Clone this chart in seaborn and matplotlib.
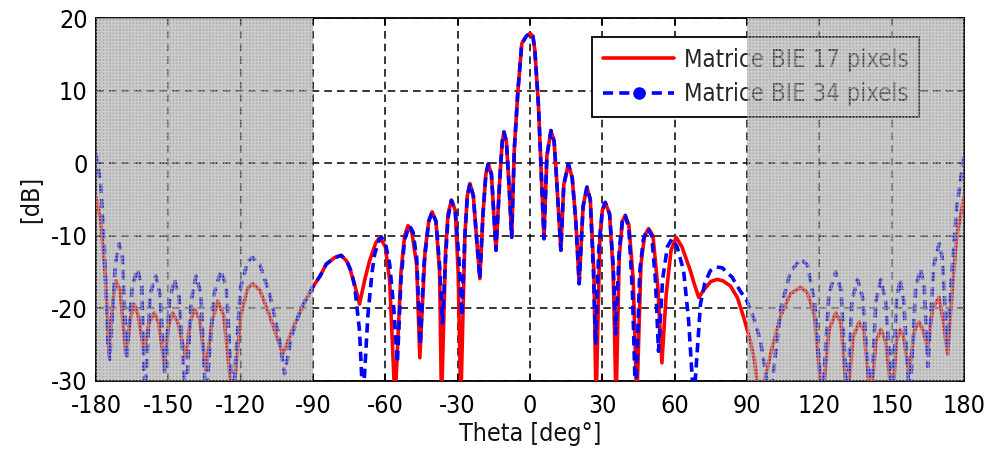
import numpy as np
import pandas as pd
import matplotlib
matplotlib.use("Agg")
import matplotlib.pyplot as plt
import seaborn as sns
from matplotlib.lines import Line2D

# ---------------- data ----------------
theta_17 = [-180, -178, -176, -174.6, -173, -171.8, -170, -167.6, -165.5, -164.2, -162.5, -160,
            -158, -155.9, -154, -151.7, -150, -148.2, -146, -142.7, -141, -139.2, -137, -134.4,
            -132, -129.5, -127, -123.3, -120, -117, -115, -112, -108, -102.5, -98, -94,
            -90, -87, -84.5, -81, -78.3, -76, -74.8, -72.5, -70.7, -68.5, -66.5, -64, -62.3,
            -60, -58.2, -56, -53.5, -52, -50.6, -49, -47, -45.7, -43.5, -42, -40.6, -39, -37.5,
            -36.7, -35, -34, -32.6, -31, -29.8, -28.7, -27, -26, -24.9, -23.5, -22, -20.8,
            -19.5, -18.3, -17.3, -16, -14.1, -12.5, -11.5, -10.8, -9.8, -8.7, -7.6, -6.5, -5,
            -3.4, -1.5, 0, 1.2, 2, 3.5, 5.8, 7, 8.7, 10, 11, 12.8, 14, 15.9, 17.5, 19, 20.4,
            22, 23.6, 25, 26.5, 27.4, 29, 30, 31.2, 33, 34.5, 35.7, 37, 38.3, 39.5, 41, 42.8,
            44.3, 46, 47.5, 49.2, 51, 53, 54.7, 56.5, 58.5, 60.6, 63, 66.5, 68, 70, 72, 75,
            77.6, 80, 83.1, 86, 88.7, 91.4, 93, 95.3, 100, 104, 108, 112.2, 115, 118, 121.2,
            124, 126.8, 129, 131.6, 134, 136.5, 138.5, 141.3, 143.5, 145.5, 147.5, 150.3, 152,
            153.5, 155, 157.2, 159.5, 161.4, 163, 164.9, 167, 169.7, 171.5, 173.2, 175, 177, 180]
db_17 = [-4.7, -8, -16, -26, -19, -16.2, -17.5, -26.3, -21, -19.4, -21, -26,
         -22, -20.6, -22, -27.7, -22.5, -20.6, -22, -26.8, -22, -20.1, -21.5, -28.6,
         -22, -19, -21, -33, -21, -17.2, -16.6, -17.5, -21, -26.3, -22.5, -19.5,
         -17, -15.5, -13.9, -13, -12.7, -13.5, -14.4, -17, -19.4, -16, -13.4, -11, -10.2,
         -11.5, -16.2, -33, -15, -10, -8.6, -9.5, -14, -26.8, -12, -8, -6.7, -8, -15,
         -33, -12, -7, -5.1, -6.5, -15, -33, -10, -4.5, -2.8, -4.5, -11, -15.9,
         -7, -1.5, -0.1, -1.5, -12, -2, 3, 4.3, 3, -3, -10.2, 2, 10,
         16.5, 17.5, 17.9, 17.5, 15.6, 8, -10.4, 1, 4.5, 3, -2, -12, -3, -0.1, -2, -8, -16.6,
         -6, -3.3, -5, -15, -33, -10, -6.5, -5.4, -7, -15, -33, -13, -8, -7.2, -8.5, -16,
         -33, -14, -10, -9, -10, -17, -27.5, -18, -12, -10.2, -11.5, -14.8, -16.5, -18.5, -17.5, -16.3,
         -16, -16.2, -16.9, -18.5, -21.3, -24.5, -27, -33, -26, -21, -18, -17.1, -17.8, -21, -33,
         -23, -20.6, -22, -33, -24, -21.9, -23, -33, -24.5, -22.9, -24.5, -33, -24.5,
         -22.9, -24, -29, -23, -21.9, -23, -25.4, -20, -18.5, -22, -26.3, -18, -10, -4.7]

theta_34 = [-180, -178, -176.5, -175, -174.3, -172, -170.4, -169, -167.3, -165, -162.8, -161,
            -159.8, -157.5, -155.2, -153.5, -151.5, -149.5, -147.5, -145.5, -142.8, -140.5,
            -138.5, -136.5, -134.5, -131, -128.2, -126, -123.3, -120, -117, -115, -112, -108,
            -104, -101.8, -99, -95, -90, -87, -84.5, -81, -78.3, -76, -74, -72.7, -70.7, -69.3,
            -67.2, -65.5, -64.4, -62.5, -61.6, -60, -58.2, -56.5, -55, -53.5, -52, -50, -48.5,
            -47, -45.5, -44, -42, -40.6, -39, -37.5, -36.3, -35, -34, -32.6, -31, -29.5, -28.3,
            -27, -26, -24.9, -23.5, -22, -20.8, -19.5, -18.3, -17.3, -16, -14.1, -12.5, -11.5,
            -10.8, -9.8, -8.7, -7.6, -6.5, -5, -3.4, -1.5, 0, 1.2, 2, 3.5, 5.8, 7, 8.7, 10, 11,
            12.8, 14, 15.9, 17.5, 19, 20.4, 22, 23.6, 25, 26.3, 27.2, 28.5, 30, 31.2, 33, 34.5,
            35.5, 37, 38.3, 39.5, 41, 42.5, 43.8, 45.5, 47, 48.8, 50.5, 52, 53.3, 55, 57, 58.9,
            61, 63.7, 65.8, 67.9, 70.7, 72.5, 74.8, 77, 79.7, 83.8, 87, 90, 93, 95.6, 98.3, 99.5,
            104, 108, 112.2, 115, 118, 121.2, 124, 126.8, 129, 131.6, 133.5, 135.8, 138, 141.3,
            143.5, 145.5, 147.5, 150.3, 152, 153.5, 155, 157.5, 160, 162, 163.5, 165, 167.5,
            169.7, 171, 173, 175, 177, 180]
db_34 = [1.3, -3, -12, -25, -27, -14, -11.1, -13, -27, -17, -14.6, -17,
         -33, -18, -15.5, -18, -29, -19, -16, -18.5, -33, -19,
         -15.5, -18, -33, -18, -14.8, -17, -33, -17, -13.5, -13, -14, -18,
         -24, -29, -24, -20, -17, -15.5, -13.9, -13, -12.7, -13.5, -15, -17, -23.1, -33,
         -20.8, -15, -12.5, -10.5, -10.2, -11, -13.9, -20, -27.5, -16, -10.5, -8.6, -9.5,
         -13, -25, -14, -8, -6.7, -8, -14, -22, -13, -7.5, -5.1, -6.5, -13, -21,
         -10, -4.5, -2.8, -4.5, -11, -15.9, -7, -1.5, -0.1, -1.5, -12, -2, 3,
         4.3, 3, -3, -10.2, 2, 10, 16.5, 17.5, 17.9, 17.5, 15.6, 8, -10.4, 1, 4.5, 3, -2,
         -12, -3, -0.1, -2, -8, -16.6, -6, -3.3, -5, -15, -25, -12, -6.5, -5.4, -7, -14,
         -23.5, -12, -8, -7.2, -9, -18, -33, -15, -10.5, -9, -10, -16, -25.9, -16, -11.5, -10.4,
         -11.5, -14.8, -21.7, -33, -19.4, -16.5, -14.8, -14.3, -14.4, -15.7, -17.5, -19, -21.5, -24.5, -30, -33,
         -20, -15, -13.2, -14, -19, -33, -18, -15, -17.5, -33, -19, -16, -18.5, -33,
         -19, -16, -19, -33, -19, -16, -19, -33, -17, -14.6, -17, -28, -14,
         -11.1, -13, -25, -15, -6, 1.0]

labels = ["Matrice BIE 17 pixels", "Matrice BIE 34 pixels"]
xticks = [-180, -150, -120, -90, -60, -30, 0, 30, 60, 90, 120, 150, 180]
yticks = [-30, -20, -10, 0, 10, 20]
shaded_spans = [(-180, -90), (90, 180)]

# ---------------- figure ----------------
sns.set_theme(style="white")
plt.rcParams["font.family"] = ["DejaVu Sans"]
plt.rcParams["font.stretch"] = "condensed"

fig = plt.figure(figsize=(9.86, 4.5), dpi=100)
ax = fig.add_axes([96 / 986, 1 - 381 / 450, 868 / 986, 363 / 450])

df17 = pd.DataFrame({"theta": theta_17, "db": db_17})
df34 = pd.DataFrame({"theta": theta_34, "db": db_34})

sns.lineplot(data=df17, x="theta", y="db", ax=ax, color="red", linewidth=2.6,
             sort=False, estimator=None, zorder=3)
sns.lineplot(data=df34, x="theta", y="db", ax=ax, color="blue", linewidth=2.6,
             sort=False, estimator=None, zorder=4, dashes=False)
ax.lines[1].set_dashes((2.6, 1.6))

ax.set_xlim(-180, 180)
ax.set_ylim(-30, 20)
ax.set_xticks(xticks)
ax.set_yticks(yticks)
ax.set_xticklabels([str(t) for t in xticks])
ax.set_yticklabels([str(t) for t in yticks])
ax.tick_params(axis="both", which="both", direction="in", length=5, width=1.2,
               top=True, right=True, bottom=True, left=True, labelsize=18,
               colors="black")
ax.tick_params(axis="x", pad=9.5)
ax.tick_params(axis="y", pad=6)
for t in ax.get_xticklabels() + ax.get_yticklabels():
    t.set_fontstretch("condensed")

ax.grid(True, color="black", linestyle=(0, (5, 3.3)), linewidth=1.1)
ax.set_axisbelow(True)
for s in ax.spines.values():
    s.set_color("black")
    s.set_linewidth(1.3)

ax.set_xlabel("Theta [deg°]", fontsize=18, color="#111111", labelpad=3, fontstretch="condensed")
ax.set_ylabel("[dB]", fontsize=18, color="#111111", labelpad=6, fontstretch="condensed")

handles = [Line2D([], [], color="red", linewidth=2.6),
           Line2D([], [], color="blue", linewidth=2.6, dashes=(2.8, 1.7),
                  marker="o", markersize=8)]
leg = ax.legend(handles, labels, loc="upper left", bbox_to_anchor=((592 - 96) / 868, 1 - (37 - 18) / 363),
                borderaxespad=0, frameon=True, fancybox=False, framealpha=1,
                edgecolor="black", handlelength=3.0, handletextpad=0.4,
                numpoints=1, borderpad=0.45, labelspacing=0.45,
                prop={"stretch": "condensed", "size": 17.2})
leg.get_frame().set_linewidth(1.3)
leg.set_zorder(5)

for a, b in shaded_spans:
    ax.axvspan(a, b, facecolor="#555555", alpha=0.45, linewidth=0, zorder=6)
    ax.axvspan(a, b, facecolor="none", edgecolor="#e6e6e6", hatch="+++++", linewidth=0,
               alpha=0.5, zorder=7)

fig.savefig("out.png", dpi=100)
